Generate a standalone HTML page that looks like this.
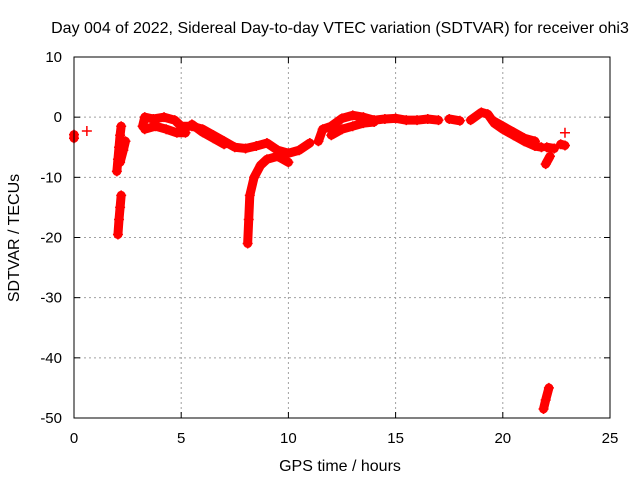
<!DOCTYPE html>
<html><head><meta charset="utf-8"><style>
body{margin:0;background:#fff}
svg{display:block;font-family:"Liberation Sans",sans-serif}
</style></head><body>
<svg id="c" width="640" height="480" viewBox="0 0 640 480">
<text x="340" y="33" font-size="16" text-anchor="middle">Day 004 of 2022, Sidereal Day-to-day VTEC variation (SDTVAR) for receiver ohi3</text>
<text x="340" y="471" font-size="16" text-anchor="middle">GPS time / hours</text>
<text transform="translate(19,238) rotate(-90)" font-size="16" text-anchor="middle">SDTVAR / TECUs</text>
<g id="grid"></g><g id="data"></g>
<rect x="74" y="57" width="536" height="361" fill="none" stroke="#000" stroke-width="1"/>
<g id="ticks"></g>
</svg>
<script>
const xTicks=[0,5,10,15,20,25];
const yTicks=[10,0,-10,-20,-30,-40,-50];
const traces=[
 [[0,-2.9],[0,-3.5]],
 [[0.6,-2.3]],
 [[2.05,-19.5],[2.1,-17],[2.15,-15],[2.2,-13]],
 [[2.0,-9],[2.05,-7],[2.1,-5],[2.15,-3],[2.2,-1.5]],
 [[2.15,-7.5],[2.3,-5.5],[2.4,-4]],
 [[3.2,-1.5],[3.3,0],[3.7,-0.3],[4.2,0],[4.7,-0.5],[5,-1.5],[5.5,-1.5],[6,-2],[6.5,-3],[7,-4],[7.5,-5],[8,-5.2],[8.5,-4.8],[9,-4.3],[9.5,-5.5],[10,-6],[10.5,-5.5],[11,-4.3]],
 [[3.3,-2],[3.8,-1.5],[4.3,-2],[4.8,-2.6],[5.2,-2.6]],
 [[5.5,-1.2],[6,-2.5],[6.5,-3.5],[7,-4.5]],
 [[8.1,-21],[8.15,-17],[8.2,-13],[8.4,-10],[8.7,-8],[9,-7],[9.5,-6.5],[10,-7.5]],
 [[11.4,-4],[11.6,-2],[12,-1.5],[12.5,-0.2],[13,0.3],[13.5,0],[14,-0.5],[14.5,-0.3],[15,-0.2],[15.5,-0.5],[16,-0.5],[16.5,-0.3],[17,-0.5]],
 [[12,-3],[12.5,-2],[13,-1.5],[13.5,-1],[14,-0.8]],
 [[17.5,-0.3],[18,-0.6]],
 [[18.5,-0.5],[19,0.8],[19.3,0.5],[19.6,-1],[20,-2],[20.5,-3],[21,-4],[21.5,-4.8],[21.8,-5]],
 [[19.5,-0.5],[20,-1.5],[20.5,-2.5],[21,-3.5],[21.5,-4]],
 [[22.0,-7.8],[22.2,-6.5]],
 [[22.05,-5],[22.4,-5.2]],
 [[22.7,-4.5],[22.9,-4.7]],
 [[22.9,-2.6]],
 [[21.9,-48.5],[22,-47],[22.15,-45]]
];
const L=74,R=610,T=57,B=418;
const X=h=>L+(h-0)/25*(R-L);
const Y=v=>T+(10-v)/60*(B-T);
const ns="http://www.w3.org/2000/svg";
function mk(t,a,p){const e=document.createElementNS(ns,t);for(const k in a)e.setAttribute(k,a[k]);p.appendChild(e);return e;}
const g=document.getElementById('grid'),tk=document.getElementById('ticks'),d=document.getElementById('data');
xTicks.forEach(v=>{const x=X(v);
 if(v>0&&v<25){const l=mk('line',{x1:x,x2:x,y1:T,y2:B,stroke:'#a0a0a0','stroke-dasharray':'2,3'},g);
 
 }
 mk('line',{x1:x,x2:x,y1:B,y2:B-6,stroke:'#000'},tk);mk('line',{x1:x,x2:x,y1:T,y2:T+6,stroke:'#000'},tk);
 const t=mk('text',{x:x,y:443,'font-size':15,'text-anchor':'middle'},tk);t.textContent=v;
 
 });
yTicks.forEach(v=>{const y=Y(v);
 if(v<10&&v>-50){const l=mk('line',{x1:L,x2:R,y1:y,y2:y,stroke:'#a0a0a0','stroke-dasharray':'2,3'},g);
 
 }
 mk('line',{x1:L,x2:L+6,y1:y,y2:y,stroke:'#000'},tk);mk('line',{x1:R,x2:R-6,y1:y,y2:y,stroke:'#000'},tk);
 const t=mk('text',{x:62,y:y+5,'font-size':15,'text-anchor':'end'},tk);t.textContent=v;
 
 });
traces.forEach(tr=>{
 if(tr.length>1){const p=mk('polyline',{points:tr.map(q=>X(q[0])+','+Y(q[1])).join(' '),fill:'none',stroke:'#f00','stroke-width':9,'stroke-linejoin':'round','stroke-linecap':'round'},d);
 
 }
 tr.forEach(q=>{const x=X(q[0]),y=Y(q[1]);
  const m=mk('path',{d:`M${x-5},${y}H${x+5}M${x},${y-5}V${y+5}`,stroke:'#f00','stroke-width':1.5},d);
  
  });
});
</script>
</body></html>
